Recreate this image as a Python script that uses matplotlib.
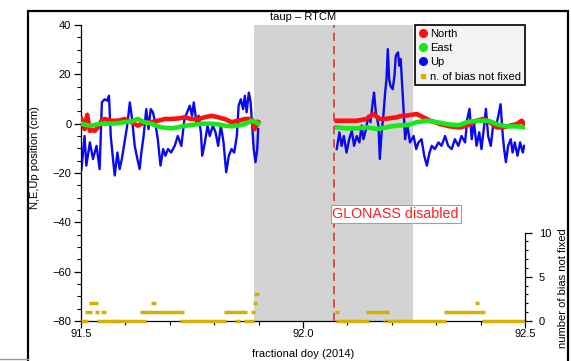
import numpy as np
import matplotlib
matplotlib.use("Agg")
import matplotlib.pyplot as plt
from matplotlib.lines import Line2D
from matplotlib.patches import Rectangle

plt.rcParams["font.family"] = ["Liberation Sans", "DejaVu Sans"]

# Up component (cm), before and after the gap
up_day_1 = [91.501, 91.508, 91.512, 91.520, 91.527, 91.535, 91.542, 91.547, 91.553, 91.559,
            91.563, 91.567, 91.572, 91.576, 91.582, 91.587, 91.592, 91.598, 91.604, 91.610,
            91.615, 91.621, 91.627, 91.632, 91.636, 91.641, 91.647, 91.652, 91.657, 91.662,
            91.667, 91.673, 91.679, 91.685, 91.690, 91.696, 91.703, 91.711, 91.718, 91.726,
            91.733, 91.739, 91.745, 91.750, 91.754, 91.760, 91.765, 91.770, 91.773, 91.779,
            91.785, 91.790, 91.797, 91.803, 91.809, 91.815, 91.821, 91.827, 91.833, 91.839,
            91.845, 91.851, 91.855, 91.860, 91.865, 91.869, 91.873, 91.878, 91.882, 91.885,
            91.889, 91.893, 91.897, 91.899]
up_cm_1 = [-18.4, -5.0, -17.0, -7.6, -14.3, -9.0, -18.4, 8.6, 9.9, 9.3,
           11.3, -5.0, -14.3, -21.0, -11.7, -18.4, -14.3, -7.6, -0.8, 8.6,
           1.9, -9.0, -14.3, -18.4, -11.7, -5.0, 5.9, -2.2, 5.9, 4.6,
           0.6, -6.3, -17.0, -10.3, -13.0, -10.3, -11.7, -9.0, -5.0, -9.0,
           1.9, 4.6, 7.3, 3.2, 8.6, 0.6, 3.2, -3.5, -13.0, -7.6,
           -0.8, -5.0, -0.8, -3.5, -9.0, -0.8, -7.6, -19.7, -13.0, -10.3,
           -11.7, -5.0, 7.3, 9.9, 5.9, 11.3, 4.6, 12.6, 8.6, 0.6,
           -10.3, -15.6, -10.3, -2.2]
up_day_2 = [92.076, 92.082, 92.087, 92.092, 92.098, 92.104, 92.110, 92.115, 92.121, 92.127,
            92.132, 92.136, 92.142, 92.147, 92.152, 92.157, 92.160, 92.164, 92.170, 92.173,
            92.177, 92.181, 92.185, 92.188, 92.191, 92.194, 92.197, 92.202, 92.206, 92.209,
            92.214, 92.217, 92.220, 92.223, 92.226, 92.230, 92.235, 92.241, 92.249, 92.255,
            92.260, 92.267, 92.273, 92.279, 92.285, 92.290, 92.297, 92.305, 92.312, 92.320,
            92.327, 92.335, 92.342, 92.350, 92.357, 92.365, 92.370, 92.375, 92.380, 92.385,
            92.391, 92.397, 92.402, 92.408, 92.412, 92.417, 92.423, 92.429, 92.435, 92.440,
            92.445, 92.450, 92.453, 92.457, 92.462, 92.468, 92.472, 92.477, 92.483, 92.489,
            92.495, 92.498]
up_cm_2 = [-10.3, -3.5, -9.0, -5.0, -11.7, -6.3, -2.9, -9.0, -5.0, -7.6,
           -0.8, -6.3, -2.2, 3.2, 0.6, 8.6, 12.6, 4.6, -0.8, -14.3,
           -3.5, 3.2, 12.6, 18.0, 30.2, 18.0, 15.3, 14.0, 19.4, 27.5,
           28.9, 23.5, 26.2, 16.6, 7.3, -6.3, -0.8, -7.6, -5.0, -10.3,
           -7.6, -6.3, -13.0, -17.0, -11.7, -9.0, -10.3, -7.6, -9.0, -5.0,
           -9.0, -10.3, -6.3, -9.0, -5.0, -7.6, 1.9, 6.0, -6.3, 0.6,
           -9.0, -3.5, -10.3, -0.8, 6.0, -5.0, -9.0, 0.6, -0.8, 3.2,
           7.9, -5.0, -10.3, -15.6, -9.0, -6.3, -11.7, -7.6, -13.0, -7.6,
           -11.7, -9.0]

# North / East components (cm)
ne_day_1 = [91.501, 91.508, 91.514, 91.520, 91.523, 91.531, 91.538, 91.546, 91.553, 91.568,
            91.583, 91.591, 91.598, 91.613, 91.628, 91.643, 91.658, 91.673, 91.681, 91.688,
            91.703, 91.718, 91.726, 91.733, 91.748, 91.764, 91.771, 91.779, 91.794, 91.809,
            91.816, 91.824, 91.839, 91.854, 91.861, 91.869, 91.884, 91.891, 91.899]
north_cm_1 = [1.9, -2.2, 3.6, -2.9, -2.5, -2.9, -1.5, 1.2, 1.9, 1.2,
              1.2, 1.5, 1.9, 0.6, -0.8, 0.6, 0.6, 1.2, 1.5, 1.9,
              1.9, 2.1, 2.3, 2.6, 1.9, 1.9, 2.2, 2.6, 3.2, 2.6,
              2.2, 1.9, 0.6, 1.2, 1.5, 1.9, 1.9, -2.2, 0.6]
east_cm_1 = [0.0, -0.4, -0.6, -0.8, -0.8, -0.5, -0.2, 0.0, 0.0, 0.0,
             0.2, 0.4, 0.6, 0.9, 1.9, 0.6, 0.0, -1.0, -1.5, -1.6,
             -1.9, -1.5, -1.1, -0.9, -0.5, -0.2, 0.0, 0.0, 0.0, -0.3,
             -0.5, -0.8, -1.1, -0.8, -0.5, -0.2, 1.2, 0.8, 0.0]
ne_day_2 = [92.076, 92.098, 92.121, 92.143, 92.158, 92.166, 92.173, 92.188, 92.195, 92.211,
            92.218, 92.233, 92.241, 92.256, 92.271, 92.279, 92.286, 92.301, 92.309, 92.324,
            92.331, 92.346, 92.354, 92.369, 92.376, 92.391, 92.406, 92.414, 92.421, 92.436,
            92.451, 92.459, 92.466, 92.481, 92.4925, 92.498]
north_cm_2 = [1.2, 1.2, 1.2, 1.9, 3.9, 2.8, 1.9, 2.0, 2.2, 2.6,
              3.0, 3.3, 3.5, 3.9, 2.6, 1.9, 1.2, 0.4, -0.2, -0.8,
              -1.1, -1.4, -1.5, -0.8, -0.2, 1.2, 1.9, 1.2, 0.6, -1.5,
              -1.5, -1.2, -0.8, -0.2, 1.2, -0.2]
east_cm_2 = [-1.5, -1.9, -1.9, -1.5, -1.9, -2.2, -2.0, -1.5, -1.2, -0.8,
             -0.7, -0.6, -0.3, 0.6, 1.0, 1.2, 1.0, 0.6, 0.4, -0.2,
             -0.3, -0.6, -0.5, 0.6, 0.8, 1.2, 1.2, 1.2, 1.0, -0.2,
             -0.8, -1.1, -1.1, -1.1, -1.3, -1.5]

# number of bias not fixed: (start day, end day, count)
bias_start = [91.499, 91.537, 91.572, 91.579, 91.722, 91.846, 91.867, 92.075, 92.180, 92.190, 92.403,
              91.510, 91.532, 91.544, 91.634, 91.821, 91.884, 92.071, 92.141, 92.318,
              91.518, 91.658, 91.887, 92.388,
              91.890]
bias_end = [91.516, 91.647, 91.576, 91.585, 91.827, 91.859, 91.890, 92.148, 92.185, 92.323, 92.500,
            91.525, 91.541, 91.556, 91.731, 91.874, 91.893, 92.080, 92.194, 92.409,
            91.538, 91.668, 91.896, 92.397,
            91.902]
bias_count = [0, 0, 0, 0, 0, 0, 0, 0, 0, 0, 0,
              1, 1, 1, 1, 1, 1, 1, 1, 1,
              2, 2, 2, 2,
              3]

outage_start, outage_end = 91.89, 92.248
glonass_off = 92.069

c_north = "#ff1010"
c_east = "#18e818"
c_up = "#0a0aee"
c_bias = "#d4b000"

fig = plt.figure(figsize=(5.71, 3.61), dpi=100)
ax = fig.add_axes([81/571, 1 - 321/361, 444/571, 296/361])

ax.axvspan(outage_start, outage_end, color="#d3d3d3", lw=0, zorder=0)
ax.axvline(glonass_off, color="#e03535", lw=1.2, ls=(0, (5, 3)), zorder=4)

for d, v in [(up_day_1, up_cm_1), (up_day_2, up_cm_2)]:
    ax.plot(d, v, color=c_up, lw=1.7, zorder=2)
for d, v in [(ne_day_1, north_cm_1), (ne_day_2, north_cm_2)]:
    ax.plot(d, v, color=c_north, lw=3.3, zorder=3)
for d, v in [(ne_day_1, east_cm_1), (ne_day_2, east_cm_2)]:
    ax.plot(d, v, color=c_east, lw=3.3, zorder=3)

ax.set_xlim(91.5, 92.5)
ax.set_ylim(-80, 40)
ax.set_xticks([91.5, 92.0, 92.5])
ax.set_xticklabels(["91.5", "92.0", "92.5"])
ax.set_xticks(np.arange(91.6, 92.45, 0.1), minor=True)
ax.set_yticks(np.arange(-80, 41, 20))
ax.set_yticks(np.arange(-80, 41, 5), minor=True)
ax.tick_params(labelsize=8, length=5, width=0.9, direction="out", pad=2)
ax.tick_params(axis="x", pad=1)
ax.tick_params(which="minor", length=3, width=0.8)
for s in ["top", "right"]:
    ax.spines[s].set_visible(False)
ax.spines["left"].set_linewidth(0.9)
ax.spines["bottom"].set_linewidth(0.9)

ax.text(glonass_off - 0.003, -36.6, "GLONASS disabled", color="#ff2020", fontsize=10.3,
        ha="left", va="center", zorder=5,
        bbox=dict(boxstyle="square,pad=0.12", fc="white", ec="#a0a0a0", lw=0.8))

# second axis for the bias counter
ax2 = ax.twinx()
ax2.hlines(bias_count, bias_start, bias_end, color=c_bias, lw=2.5, clip_on=False)
ax2.set_ylim(0, 33.5)
ax2.set_yticks([0, 5, 10])
ax2.set_yticks(np.arange(0, 11, 1), minor=True)
ax2.tick_params(labelsize=8, length=5, width=0.9, direction="out", pad=5)
ax2.tick_params(which="minor", length=2.5, width=0.8)
for s in ["top", "left", "bottom"]:
    ax2.spines[s].set_visible(False)
ax2.spines["right"].set_bounds(0, 10)
ax2.spines["right"].set_linewidth(0.9)

handles = [
    Line2D([], [], ls="", marker="o", ms=5.5, color=c_north),
    Line2D([], [], ls="", marker="o", ms=5.5, color=c_east),
    Line2D([], [], ls="", marker="o", ms=5.5, color=c_up),
    Line2D([], [], ls="", marker="s", ms=3.5, color=c_bias),
]
leg = ax2.legend(handles, ["North", "East", "Up", "n. of bias not fixed"], loc="upper right",
                 bbox_to_anchor=(1.0, 1.0), borderaxespad=0, fontsize=8, fancybox=False,
                 framealpha=1, facecolor="#f3f3f3", edgecolor="black", handletextpad=0.25,
                 handlelength=0.8, labelspacing=0.38, borderpad=0.35)
leg.get_frame().set_linewidth(1.2)

fig.text(303/571, 1 - 17/361, "taup \u2013 RTCM", fontsize=8, ha="center", va="center")
fig.text(303/571, 1 - 354/361, "fractional doy (2014)", fontsize=8, ha="center", va="center")
fig.text(35/571, 1 - 158/361, "N,E,Up position (cm)", fontsize=8, rotation=90,
         ha="center", va="center")
fig.text(563/571, 1 - 288/361, "number of bias not fixed", fontsize=8, rotation=90,
         ha="center", va="center")

# outer frame
fig.add_artist(Rectangle((28/571, -0.1), 540/571, 1.1 - 11/361, transform=fig.transFigure,
                         fill=False, ec="black", lw=1.6))
fig.add_artist(Line2D([0, 28/571], [1 - 359/361] * 2, transform=fig.transFigure,
                      color="#999999", lw=1))

fig.savefig("out.png", dpi=100)
